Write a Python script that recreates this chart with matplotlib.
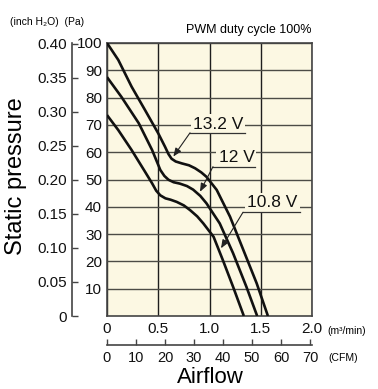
import matplotlib
matplotlib.use('Agg')
import matplotlib.pyplot as plt

plt.rcParams['font.family'] = ['Liberation Sans', 'DejaVu Sans']

# ---- data ----
airflow_132 = [0, 0.11, 0.24, 0.37, 0.50, 0.566, 0.60, 0.63, 0.67, 0.73, 0.80, 0.86, 0.92, 0.97, 1.07, 1.20, 1.33, 1.46, 1.57]
pressure_132 = [100, 93.8, 84.0, 75.5, 66.9, 62.0, 59.3, 57.6, 56.6, 55.9, 55.2, 54.1, 52.6, 51.0, 46.2, 36.4, 24.2, 12.0, 0]

airflow_12 = [0, 0.14, 0.31, 0.44, 0.52, 0.56, 0.60, 0.65, 0.71, 0.78, 0.84, 0.91, 0.97, 1.10, 1.23, 1.36, 1.465]
pressure_12 = [87.5, 80.3, 70.6, 60.8, 53.5, 51.3, 49.9, 49.0, 48.5, 47.6, 46.3, 44.0, 41.3, 33.9, 23.0, 10.7, 0]

airflow_108 = [0, 0.11, 0.24, 0.37, 0.44, 0.48, 0.52, 0.57, 0.62, 0.68, 0.75, 0.81, 0.88, 0.94, 1.04, 1.13, 1.23, 1.335]
pressure_108 = [73.6, 68.1, 60.8, 52.9, 48.6, 45.9, 44.2, 43.1, 42.6, 41.8, 40.5, 38.8, 36.5, 33.9, 29.0, 20.5, 10.7, 0]

x_ticks = [0, 0.5, 1.0, 1.5, 2.0]
x_tick_labels = ['0', '0.5', '1.0', '1.5', '2.0']
pa_ticks = [10, 20, 30, 40, 50, 60, 70, 80, 90, 100]
inch_ticks = [0, 0.05, 0.10, 0.15, 0.20, 0.25, 0.30, 0.35, 0.40]
inch_tick_labels = ['0', '0.05', '0.10', '0.15', '0.20', '0.25', '0.30', '0.35', '0.40']
cfm_ticks = [0, 10, 20, 30, 40, 50, 60, 70]

labels = ['13.2 V', '12 V', '10.8 V']
label_text_xy = [(1.083, 70.3), (1.263, 57.9), (1.615, 41.4)]
label_underline = [(0.81, 1.346, 67.1), (1.034, 1.444, 54.7), (1.327, 1.883, 38.0)]
label_arrow_tip = [(0.647, 58.4), (0.907, 45.5), (1.112, 24.8)]

PA_PER_INCH = 249.089
CFM_PER_M3MIN = 35.3147

W, H = 378, 389
fig = plt.figure(figsize=(W / 100, H / 100), dpi=100)
ax = fig.add_axes([107 / W, 1 - 316 / H, 205 / W, 273 / H])
bg = '#FCF8E3'
ax.set_facecolor(bg)
ax.set_xlim(0, 2.0)
ax.set_ylim(0, 100)

ax.set_xticks(x_ticks)
ax.set_xticklabels(x_tick_labels)
ax.set_yticks(pa_ticks)
ax.tick_params(axis='both', length=0, labelsize=11, labelcolor='#111111')
ax.tick_params(axis='y', pad=3.6)
ax.tick_params(axis='x', pad=4)
ax.xaxis.grid(True, color='#1e1e1e', lw=1.0)
ax.yaxis.grid(True, color='#4c4c46', lw=1.0)
ax.set_axisbelow(True)
for s in ax.spines.values():
    s.set_color('#444444')
    s.set_linewidth(1.2)

for xs, ys in [(airflow_132, pressure_132), (airflow_12, pressure_12), (airflow_108, pressure_108)]:
    ax.plot(xs, ys, color='#111111', lw=1.9, solid_joinstyle='round', solid_capstyle='butt', zorder=3)

for lab, (tx, ty), (ux0, ux1, uy), (ax_, ay_) in zip(labels, label_text_xy, label_underline, label_arrow_tip):
    ax.text(tx, ty, lab, fontsize=12.5, ha='center', va='center', color='#111111', zorder=4,
            bbox=dict(boxstyle='square,pad=0.12', facecolor=bg, edgecolor='none'))
    ax.plot([ux0, ux1], [uy, uy], color='#333333', lw=0.9, zorder=5)
    ax.annotate('', xy=(ax_, ay_), xytext=(ux0, uy), zorder=5,
                arrowprops=dict(arrowstyle='-|>,head_length=0.5,head_width=0.2', color='#222222', lw=0.8,
                                mutation_scale=10, shrinkA=0, shrinkB=0))

# inch H2O axis
sec = ax.secondary_yaxis(-35 / 205, functions=(lambda p: p / PA_PER_INCH, lambda i: i * PA_PER_INCH))
sec.set_yticks(inch_ticks)
sec.set_yticklabels(inch_tick_labels)
sec.tick_params(direction='in', length=4, width=1, pad=3.6, labelsize=11, color='#444444', labelcolor='#111111')
sec.spines['left'].set_color('#444444')
sec.spines['left'].set_linewidth(1.2)

# CFM axis
secx = ax.secondary_xaxis(-29 / 273, functions=(lambda m: m * CFM_PER_M3MIN, lambda c: c / CFM_PER_M3MIN))
secx.set_xticks(cfm_ticks)
secx.tick_params(direction='in', length=4, width=1, pad=4.5, labelsize=10.5, color='#444444', labelcolor='#111111')
secx.spines['bottom'].set_color('#444444')
secx.spines['bottom'].set_linewidth(1.2)

fig.text(10 / W, 1 - 22 / H, '(inch H\u2082O)  (Pa)', fontsize=7.5, ha='left', va='center')
fig.text(312 / W, 1 - 30 / H, 'PWM duty cycle 100%', fontsize=9, ha='right', va='center')
fig.text(327 / W, 1 - 331 / H, '(m\u00b3/min)', fontsize=7.5, ha='left', va='center')
fig.text(328 / W, 1 - 358 / H, '(CFM)', fontsize=7.5, ha='left', va='center')
fig.text(16 / W, 1 - 176 / H, 'Static pressure', fontsize=17, rotation=90, ha='center', va='center')
fig.text(210 / W, 1 - 388 / H, 'Airflow', fontsize=16, ha='center', va='bottom')

fig.savefig('out.png', dpi=100, facecolor='white')
